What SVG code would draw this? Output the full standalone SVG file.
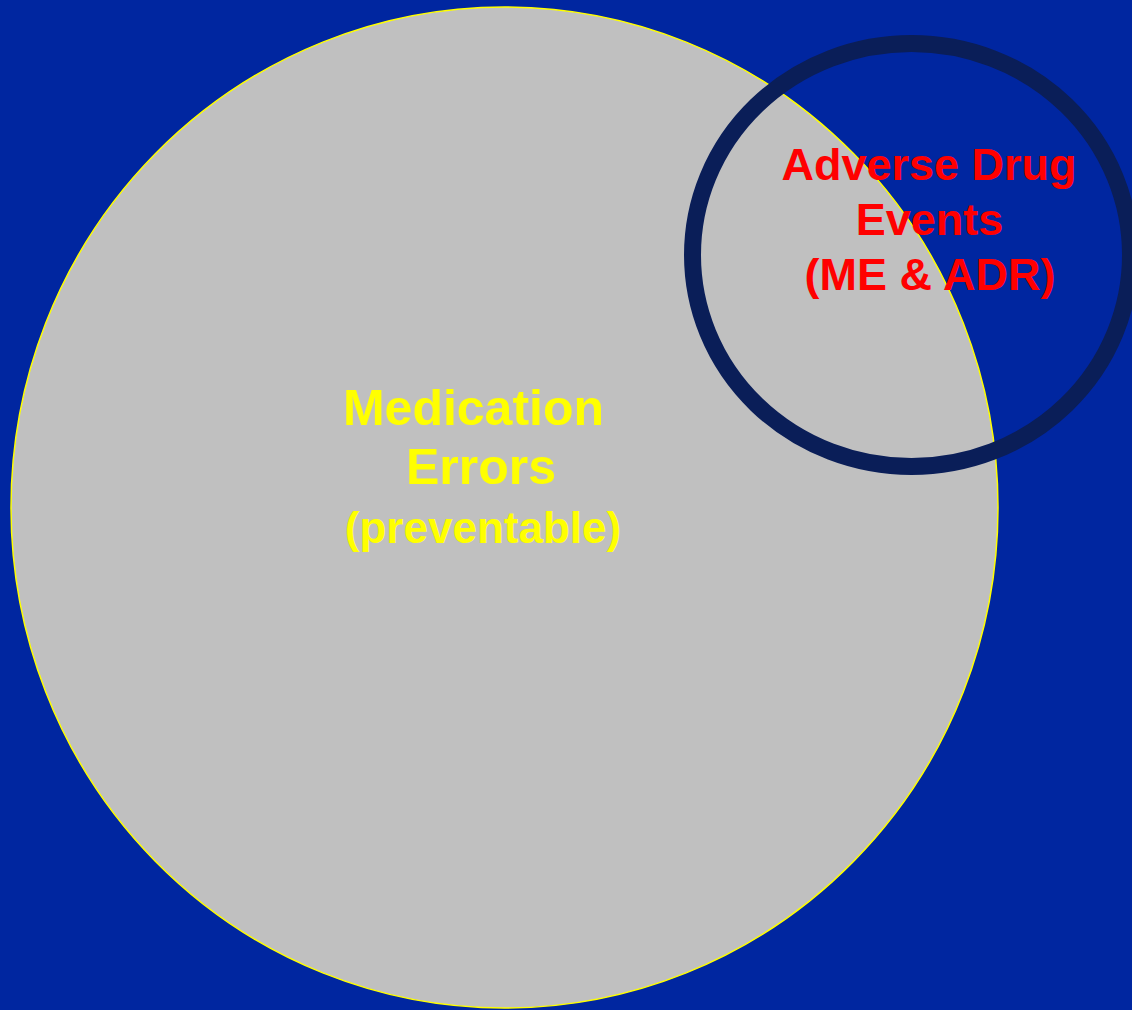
<svg xmlns="http://www.w3.org/2000/svg" width="1132" height="1010" viewBox="0 0 1132 1010">
  <style>
    .lbl { font-family: "Liberation Sans", Arial, sans-serif; font-weight: bold; text-anchor: middle; }
    .yellow { fill: #FFFF00; }
    .red { fill: #FF0000; }
  </style>
  <rect x="0" y="0" width="1132" height="1010" fill="#0026A0"/>
  <g id="medication-errors">
    <ellipse cx="504.5" cy="507.5" rx="493.5" ry="500.5" fill="#C0C0C0" stroke="#FFFF00" stroke-width="1.5"/>
  </g>
  <g id="adverse-drug-events">
    <ellipse cx="911.5" cy="255" rx="219" ry="211.5" fill="none" stroke="#0A1E58" stroke-width="17"/>
  </g>
  <g id="labels-me">
    <text class="lbl yellow" x="473.5" y="425" font-size="50">Medication</text>
    <text class="lbl yellow" x="481" y="484" font-size="50">Errors</text>
    <text class="lbl yellow" x="483" y="543" font-size="44">(preventable)</text>
  </g>
  <g id="labels-ade">
    <text class="lbl red" x="929" y="180" font-size="45">Adverse Drug</text>
    <text class="lbl red" x="929.5" y="235" font-size="45">Events</text>
    <text class="lbl red" x="930" y="290" font-size="45">(ME &amp; ADR)</text>
  </g>
  <g id="connectors"/>
</svg>
